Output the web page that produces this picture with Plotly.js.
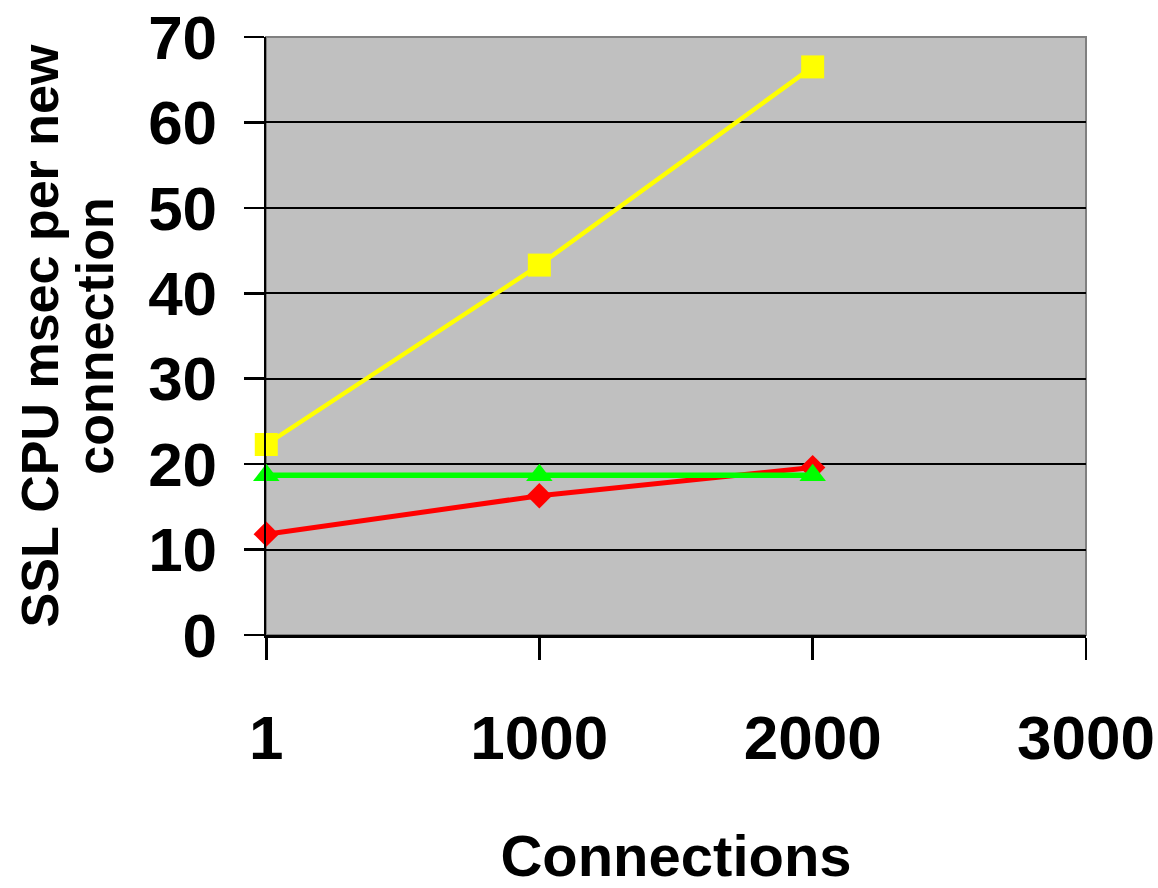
<!DOCTYPE html>
<html>
<head>
<meta charset="utf-8">
<script src="https://cdn.plot.ly/plotly-3.0.1.min.js"></script>
<style>html,body{margin:0;padding:0;background:#fff;}#chart{width:1158px;height:888px;}</style>
</head>
<body>
<div id="chart"></div>
<script>
const connections = [1, 1000, 2000];
const redValues = [11.8, 16.3, 19.6];
const greenValues = [18.7, 18.7, 18.7];
const yellowValues = [22.3, 43.3, 66.5];
const xTickVals = [1, 1000, 2000, 3000];
const xTickText = ['1', '1000', '2000', '3000'];
const yTickVals = [0, 10, 20, 30, 40, 50, 60, 70];
const yTitleLines = ['SSL CPU msec per new', 'connection'];

const fontFam = 'Arial, "Liberation Sans", sans-serif';

const traces = [
  {x: connections, y: redValues, mode: 'lines+markers', cliponaxis: false,
   line: {color: '#FF0000', width: 5}, marker: {symbol: 'diamond', size: 19.5, color: '#FF0000'}},
  {x: connections, y: greenValues, mode: 'lines+markers', cliponaxis: false,
   line: {color: '#00FF00', width: 5.5}, marker: {symbol: 'triangle-up', size: 23, color: '#00FF00'}},
  {x: connections, y: yellowValues, mode: 'lines+markers', cliponaxis: false,
   line: {color: '#FFFF00', width: 4.5}, marker: {symbol: 'square', size: 23, color: '#FFFF00'}}
];

const yTitle = yTitleLines.map(s => '<span style="font-size:52px">' + s + '</span>').join('<br>');

const layout = {
  width: 1158, height: 888,
  margin: {l: 266, r: 72, t: 37, b: 253},
  paper_bgcolor: '#FFFFFF',
  plot_bgcolor: '#C0C0C0',
  showlegend: false,
  font: {family: fontFam, color: '#000000'},
  xaxis: {
    range: [0, 3000], tickmode: 'array', tickvals: xTickVals, ticktext: xTickText,
    showgrid: false, zeroline: false, showline: true, linecolor: '#000000', linewidth: 2.5,
    ticks: 'outside', ticklen: 22, tickwidth: 2.5, tickcolor: '#000000',
    ticklabelstandoff: 25,
    tickfont: {family: fontFam, size: 62, weight: 'bold', color: '#000000'},
    title: {text: 'Connections', standoff: 66, font: {family: fontFam, size: 58, weight: 'bold', color: '#000000'}}
  },
  yaxis: {
    range: [0, 70], tickmode: 'array', tickvals: yTickVals,
    showgrid: true, gridcolor: '#000000', gridwidth: 2,
    zeroline: false, showline: true, linecolor: '#000000', linewidth: 2.5,
    ticks: 'outside', ticklen: 20, tickwidth: 2.5, tickcolor: '#000000',
    ticklabelstandoff: 14,
    tickfont: {family: fontFam, size: 62, weight: 'bold', color: '#000000'},
    title: {text: yTitle, standoff: 22, font: {family: fontFam, size: 42, weight: 'bold', color: '#000000'}}
  },
  shapes: [
    {type: 'rect', xref: 'paper', yref: 'paper', x0: 0, x1: 1, y0: 0, y1: 1,
     line: {color: '#808080', width: 2}, layer: 'below'}
  ]
};

Plotly.newPlot('chart', traces, layout, {displayModeBar: false, staticPlot: true});
</script>
</body>
</html>
